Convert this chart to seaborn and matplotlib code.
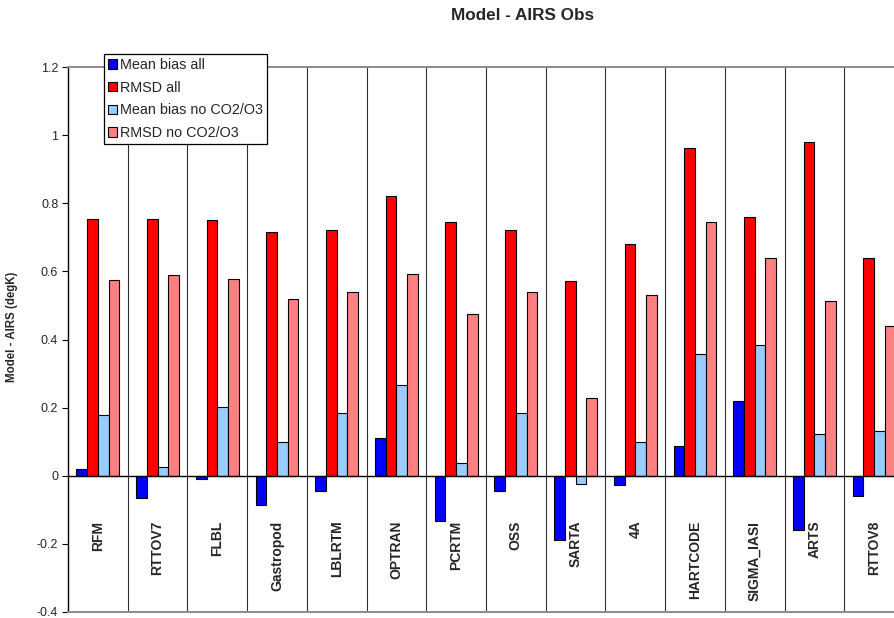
import matplotlib
matplotlib.use("Agg")
import matplotlib.pyplot as plt
from matplotlib.patches import Patch
import seaborn as sns
import pandas as pd

# Radiative transfer models compared against AIRS observations
models = ["RFM", "RTTOV7", "FLBL", "Gastropod", "LBLRTM", "OPTRAN", "PCRTM",
          "OSS", "SARTA", "4A", "HARTCODE", "SIGMA_IASI", "ARTS", "RTTOV8"]

mean_bias_all = [0.020, -0.065, -0.010, -0.086, -0.046, 0.112, -0.132,
                 -0.046, -0.190, -0.028, 0.086, 0.218, -0.158, -0.059]
rmsd_all = [0.755, 0.755, 0.752, 0.715, 0.722, 0.822, 0.746,
            0.722, 0.573, 0.680, 0.963, 0.759, 0.981, 0.640]
mean_bias_noco2 = [0.177, 0.027, 0.203, 0.098, 0.184, 0.265, 0.038,
                   0.183, -0.025, 0.100, 0.357, 0.385, 0.122, 0.132]
rmsd_noco2 = [0.575, 0.590, 0.578, 0.520, 0.540, 0.593, 0.475,
              0.540, 0.227, 0.530, 0.746, 0.640, 0.513, 0.440]

series_names = ["Mean bias all", "RMSD all", "Mean bias no CO2/O3", "RMSD no CO2/O3"]
series_colors = ["#0000FF", "#FF0000", "#99CCFF", "#FF8080"]

y_ticks = [-0.4, -0.2, 0, 0.2, 0.4, 0.6, 0.8, 1.0, 1.2]
y_tick_labels = ["-0.4", "-0.2", "0", "0.2", "0.4", "0.6", "0.8", "1", "1.2"]

df = pd.DataFrame({
    "model": models * 4,
    "series": [s for s in series_names for _ in models],
    "value": mean_bias_all + rmsd_all + mean_bias_noco2 + rmsd_noco2,
})

sns.set_style("white")
plt.rcParams["font.family"] = ["Liberation Sans", "DejaVu Sans"]

W, H = 894, 618
fig = plt.figure(figsize=(W / 100, H / 100), dpi=100)
fig.patch.set_facecolor("white")

# plot area runs past the right edge of the figure
x0, x1, ytop, ybot = 68, 904, 67, 612
ax = fig.add_axes([x0 / W, 1 - ybot / H, (x1 - x0) / W, (ybot - ytop) / H])

palette = dict(zip(series_names, series_colors))
sns.barplot(data=df, x="model", y="value", hue="series", order=models,
            hue_order=series_names, palette=palette, saturation=1,
            width=0.72, edgecolor="black", linewidth=0.8, legend=False,
            ax=ax, zorder=3)

ax.set_xlim(-0.5, len(models) - 0.5)
ax.set_ylim(-0.4, 1.2)
ax.set_xticks([])
ax.set_xlabel("")
ax.set_ylabel("")
ax.set_yticks(y_ticks)
ax.set_yticklabels(y_tick_labels, fontsize=9)
ax.tick_params(axis="y", direction="out", length=4, width=0.8, color="black",
               pad=3, left=True)

ax.spines["right"].set_visible(False)
ax.spines["left"].set_color("black")
ax.spines["left"].set_linewidth(1.0)
ax.spines["top"].set_color("#8c8c8c")
ax.spines["top"].set_linewidth(1.4)
ax.spines["bottom"].set_color("#8c8c8c")
ax.spines["bottom"].set_linewidth(1.4)

# category separators and zero line
for k in range(len(models) - 1):
    ax.axvline(k + 0.5, color="#303030", linewidth=0.8, zorder=2)
ax.axhline(0, color="black", linewidth=1.0, zorder=4)

# category names below the zero line
for i, m in enumerate(models):
    ax.text(i, -0.132, m, rotation=90, ha="center", va="top",
            fontsize=10, fontweight="bold", zorder=5)

fig.text(523 / W, 1 - 15 / H, "Model - AIRS Obs", ha="center", va="center",
         fontsize=12.3, fontweight="bold")
fig.text(12.5 / W, 1 - 327 / H, "Model - AIRS (degK)", rotation=90,
         ha="center", va="center", fontsize=8.3, fontweight="bold")

handles = [Patch(facecolor=c, edgecolor="black", linewidth=0.8)
           for c in series_colors]
leg = fig.legend(handles, series_names, loc="upper left",
                 bbox_to_anchor=(104 / W, 1 - 54 / H), fontsize=10.4,
                 frameon=True, fancybox=False, borderaxespad=0,
                 borderpad=0.28, labelspacing=0.6, handlelength=0.6,
                 handleheight=0.6, handletextpad=0.2)
leg.get_frame().set_edgecolor("black")
leg.get_frame().set_linewidth(0.9)
leg.get_frame().set_facecolor("white")
leg.get_frame().set_alpha(1)
leg.set_zorder(10)

fig.savefig("out.png", dpi=100)
